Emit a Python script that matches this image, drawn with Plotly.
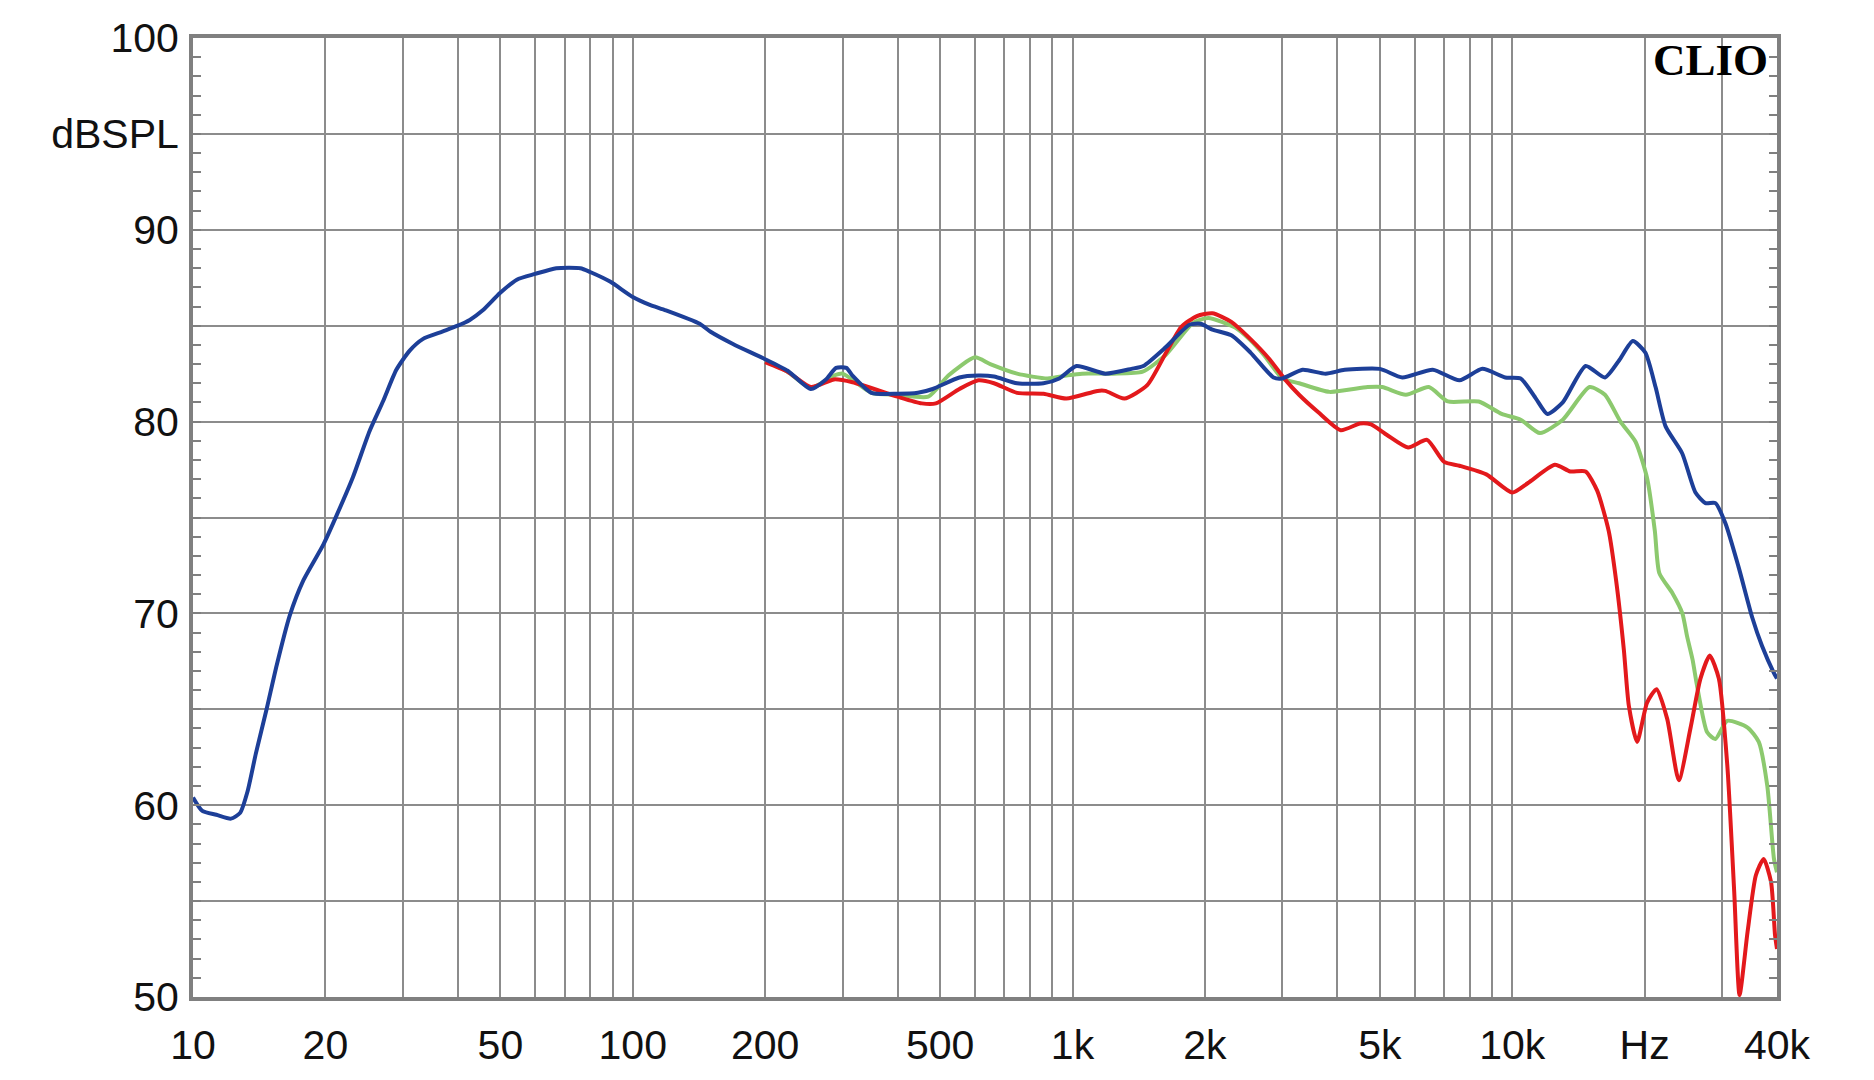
import plotly.graph_objects as go

# ---- data ----
freq_blue = [10, 10.5, 11.3, 12.2, 12.8, 13.3, 13.9, 14.7, 15.5, 16.6, 17.8, 19.8, 21.2, 23.1, 25.2,
             27.1, 29, 31.1, 33.3, 37, 40, 42.6, 45.6, 49.9, 54.5, 60, 67, 76, 80, 88.8, 100, 109,
             119, 142, 150, 169, 198, 225, 254, 275, 290, 306, 316, 349, 400, 445, 481, 553, 611,
             663, 748, 859, 933, 1021, 1187, 1362, 1449, 1633, 1845, 1955, 2080, 2297, 2540, 2865,
             3000, 3335, 3765, 4160, 5000, 5623, 6596, 7585, 8550, 9640, 10450, 11320, 12020,
             13030, 14690, 16250, 17510, 18800, 20070, 21180, 22320, 24340, 26100, 27500, 28970,
             30530, 32730, 35120, 36990, 39340, 40000]
spl_blue = [60.4, 59.7, 59.5, 59.3, 59.6, 60.7, 62.7, 65.0, 67.3, 69.9, 71.7, 73.6, 75.1, 77.1, 79.5,
            81.1, 82.7, 83.7, 84.3, 84.7, 85.0, 85.3, 85.8, 86.7, 87.4, 87.7, 88.0, 88.0, 87.8, 87.3,
            86.5, 86.1, 85.8, 85.1, 84.7, 84.05, 83.3, 82.65, 81.7, 82.2, 82.8, 82.8, 82.4, 81.5,
            81.45, 81.5, 81.7, 82.3, 82.4, 82.35, 82.0, 82.0, 82.25, 82.9, 82.5, 82.75, 82.9, 83.9,
            85.05, 85.1, 84.8, 84.5, 83.6, 82.3, 82.25, 82.7, 82.5, 82.7, 82.75, 82.3, 82.7, 82.15,
            82.75, 82.3, 82.25, 81.2, 80.4, 81.0, 82.9, 82.3, 83.2, 84.2, 83.6, 81.8, 79.75, 78.35,
            76.3, 75.75, 75.75, 74.7, 72.4, 69.8, 68.3, 66.9, 66.6]

freq_green = [200, 225, 254, 287, 300, 349, 400, 470, 522, 600, 650, 748, 877, 968, 1051, 1233,
              1444, 1633, 1880, 2037, 2344, 2523, 2730, 3000, 3275, 3840, 4690, 5060, 5730, 6460,
              7140, 8390, 9460, 10450, 11560, 13030, 14990, 16250, 17620, 19070, 20260, 21100,
              21600, 23140, 24370, 24980, 25700, 26330, 27750, 28970, 30830, 34290, 36360, 38020,
              39370, 40000]
spl_green = [83.2, 82.6, 81.75, 82.4, 82.5, 81.5, 81.4, 81.3, 82.4, 83.35, 83.0, 82.5, 82.25, 82.4,
             82.5, 82.5, 82.6, 83.5, 85.15, 85.4, 84.9, 84.3, 83.45, 82.25, 82.0, 81.55, 81.8, 81.8,
             81.4, 81.8, 81.05, 81.05, 80.4, 80.1, 79.4, 80.1, 81.8, 81.4, 80.0, 78.95, 77.05, 74.3,
             72.1, 71.05, 70.0, 68.8, 67.6, 66.2, 63.8, 63.45, 64.4, 64.05, 63.3, 61.0, 57.2, 56.5]

freq_red = [200, 225, 254, 287, 316, 400, 454, 489, 553, 611, 663, 748, 859, 968, 1140, 1187, 1312,
            1479, 1633, 1770, 1918, 2080, 2297, 2540, 2806, 3042, 3275, 3617, 4075, 4504, 4775,
            5190, 5796, 6400, 7000, 7585, 8730, 10000, 10860, 12500, 13550, 14680, 15600, 16570,
            17230, 17940, 18410, 19230, 20260, 21290, 22510, 23920, 25420, 26790, 28130, 29500,
            30830, 31970, 32880, 34290, 35810, 37300, 38770, 39600, 40000]
spl_red = [83.1, 82.6, 81.8, 82.2, 82.05, 81.3, 80.95, 80.95, 81.7, 82.15, 82.0, 81.5, 81.45, 81.2,
           81.6, 81.6, 81.2, 81.9, 83.6, 84.95, 85.5, 85.65, 85.2, 84.3, 83.25, 82.2, 81.4, 80.5,
           79.55, 79.9, 79.85, 79.3, 78.65, 79.05, 77.9, 77.7, 77.25, 76.3, 76.8, 77.75, 77.4, 77.4,
           76.4, 74.3, 71.7, 68.1, 65.2, 63.3, 65.35, 66.05, 64.5, 61.3, 64.0, 66.6, 67.8, 66.6,
           62.1, 55.5, 50.1, 53.4, 56.35, 57.2, 56.0, 53.2, 52.5]

x_grid = [10, 20, 30, 40, 50, 60, 70, 80, 90, 100, 200, 300, 400, 500, 600, 700, 800, 900,
          1000, 2000, 3000, 4000, 5000, 6000, 7000, 8000, 9000, 10000, 20000, 30000, 40000]
x_labels = {10: "10", 20: "20", 50: "50", 100: "100", 200: "200", 500: "500", 1000: "1k",
            2000: "2k", 5000: "5k", 10000: "10k", 20000: "Hz", 40000: "40k"}
y_grid = [50, 55, 60, 65, 70, 75, 80, 85, 90, 95, 100]
y_labels = {50: "50", 60: "60", 70: "70", 80: "80", 90: "90", 95: "dBSPL", 100: "100"}

GRID = "#8c8c8c"
AXIS = "#808080"
FONT = "Liberation Sans, Arial, sans-serif"

fig = go.Figure()
fig.add_trace(go.Scatter(x=freq_green, y=spl_green, mode="lines",
                         line=dict(color="#8cc96e", width=4, shape="spline", smoothing=0.6)))
fig.add_trace(go.Scatter(x=freq_red, y=spl_red, mode="lines",
                         line=dict(color="#e3191c", width=4, shape="spline", smoothing=0.6)))
fig.add_trace(go.Scatter(x=freq_blue, y=spl_blue, mode="lines",
                         line=dict(color="#1d3f98", width=4, shape="spline", smoothing=0.6)))

fig.update_layout(
    width=1874, height=1080,
    margin=dict(l=193, r=97, t=38, b=80),
    paper_bgcolor="white", plot_bgcolor="white",
    showlegend=False,
    font=dict(family=FONT, size=41, color="#111111"),
)
fig.update_xaxes(
    type="log", range=[1, 4.60206],
    tickmode="array", tickvals=x_grid,
    ticktext=[x_labels.get(v, "") for v in x_grid],
    showgrid=True, gridcolor=GRID, gridwidth=1.8,
    showline=True, linecolor=AXIS, linewidth=4, mirror=True,
    ticks="", zeroline=False,
    tickfont=dict(family=FONT, size=41, color="#111111"),
    ticklabelstandoff=9,
)
fig.update_yaxes(
    range=[50, 100],
    tickmode="array", tickvals=y_grid,
    ticktext=[y_labels.get(v, "") for v in y_grid],
    showgrid=True, gridcolor=GRID, gridwidth=1.8,
    showline=True, linecolor=AXIS, linewidth=4, mirror="allticks",
    ticks="inside", ticklen=8, tickwidth=2, tickcolor=AXIS, zeroline=False,
    tickfont=dict(family=FONT, size=41, color="#111111"),
    ticklabelstandoff=2,
    minor=dict(dtick=1, ticks="inside", ticklen=8, tickwidth=2, tickcolor=AXIS,
               showgrid=False),
)
fig.add_annotation(
    xref="paper", yref="paper", x=0.9956, y=0.977, xanchor="right", yanchor="middle",
    text="<b>CLIO</b>", showarrow=False,
    font=dict(family="Liberation Serif, Times New Roman, serif", size=45, color="black"),
)

fig.write_html("out.html")
